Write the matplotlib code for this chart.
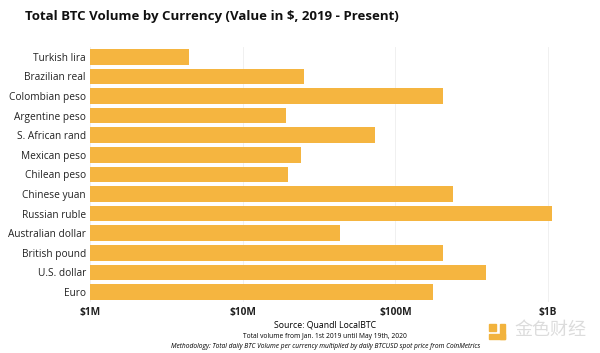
import numpy as np
from matplotlib import pyplot as plt
from matplotlib.ticker import FixedLocator, NullLocator

# Total BTC volume by currency, USD
currencies = ["Turkish lira", "Brazilian real", "Colombian peso", "Argentine peso",
              "S. African rand", "Mexican peso", "Chilean peso", "Chinese yuan",
              "Russian ruble", "Australian dollar", "British pound", "U.S. dollar", "Euro"]
volumes = [4.45e6, 25.2e6, 205e6, 19.2e6, 73.5e6, 24.1e6, 19.8e6, 238e6,
           1.06e9, 43.4e6, 205e6, 392e6, 176e6]
tick_vals = [1e6, 1e7, 1e8, 1e9]
tick_labels = ["$1M", "$10M", "$100M", "$1B"]

plt.rcParams['font.family'] = ['Open Sans', 'DejaVu Sans']

fig = plt.figure(figsize=(6, 3.53), dpi=100)
ax = fig.add_axes([0.15, 0.145, 0.79, 0.722])

y = np.arange(len(currencies))
ax.barh(y, volumes, height=0.8, color="#F5B540", log=True)
ax.set_xlim(1e6, 1.27e9)
ax.set_ylim(len(currencies) - 0.5, -0.5)
ax.set_yticks(y)
ax.set_yticklabels(currencies, fontsize=7.3, color="#222222")
ax.xaxis.set_major_locator(FixedLocator(tick_vals))
ax.xaxis.set_minor_locator(NullLocator())
ax.set_xticklabels(tick_labels, fontsize=7.3, fontweight="bold", color="#222222")
ax.tick_params(length=0, pad=3)
ax.tick_params(axis="x", pad=4)
ax.grid(axis="x", color="#eeeeee", linewidth=0.6)
ax.set_axisbelow(True)
for s in ax.spines.values():
    s.set_visible(False)

fig.text(0.042, 0.952, "Total BTC Volume by Currency (Value in $, 2019 - Present)",
         fontsize=9.5, fontweight="bold", va="center", color="#111111")
fig.text(0.542, 0.078, "Source: Quandl LocalBTC", fontsize=6.3, ha="center", va="center")
fig.text(0.542, 0.046, "Total volume from Jan. 1st 2019 until May 19th, 2020",
         fontsize=4.8, ha="center", va="center")
fig.text(0.542, 0.017, "Methodology: Total daily BTC Volume per currency multiplied by daily BTCUSD spot price from CoinMetrics",
         fontsize=4.8, ha="center", va="center", style="italic")

# watermark
fig.text(0.857, 0.065, "金色财经", fontsize=13, color="#dcdcdc", va="center",
         family=['Noto Sans CJK SC', 'DejaVu Sans'])
for (x0, y0, w, h) in [(0.815, 0.062, 0.011, 0.02), (0.833, 0.040, 0.009, 0.042),
                       (0.815, 0.040, 0.027, 0.014)]:
    fig.patches.append(plt.Rectangle((x0, y0), w, h, transform=fig.transFigure,
                                     color="#F2B33D"))

fig.savefig("out.png")
